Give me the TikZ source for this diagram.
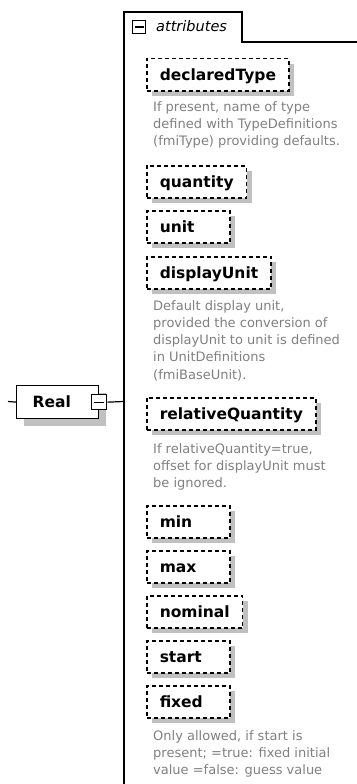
\documentclass[tikz,border=0pt]{standalone}
\usepackage{fontspec}
\setmainfont{DejaVu Sans}
\usetikzlibrary{shadows}
\definecolor{shadowgray}{HTML}{C0C0C0}
\definecolor{descgray}{HTML}{808080}
\begin{document}
\begin{tikzpicture}[x=1pt,y=-1pt,
  attrbox/.style={draw, dash pattern=on 4pt off 3pt, line width=1.5pt, fill=white,
    anchor=north west, minimum height=32pt, inner xsep=13pt,
    text height=11pt, text depth=0pt,
    font=\bfseries\fontsize{15.5}{18}\selectfont,
    drop shadow={shadow xshift=5pt, shadow yshift=-5pt, fill=shadowgray, opacity=1}},
  shortbox/.style={text width=57pt, align=left},
  desc/.style={anchor=base west, align=left, inner sep=0pt, text=descgray,
    font=\fontsize{13}{17.3}\selectfont},
  realbox/.style={draw, line width=1.2pt, fill=white, anchor=north west,
    minimum height=33pt, inner xsep=16pt, text width=50pt, align=left,
    text height=10pt, text depth=0pt,
    font=\bfseries\fontsize{15.5}{18}\selectfont,
    drop shadow={shadow xshift=7pt, shadow yshift=-7pt, fill=shadowgray, opacity=1}},
  expbox/.style={draw, line width=1.3pt, fill=white, inner sep=0pt, anchor=north west},
  conn/.style={line width=1.2pt}
]
\useasboundingbox (0,0) rectangle (356,784);

% group outline
\draw[line width=1.4pt] (124,790) -- (124,12) -- (242,12) -- (242,42) -- (360,42);
\node[expbox, minimum size=13pt] (gexp) at (132,20) {};
\draw[line width=1.3pt] ([xshift=2.5pt]gexp.west) -- ([xshift=-2.5pt]gexp.east);
\node[anchor=base west, inner sep=0pt, font=\itshape\fontsize{14.5}{16}\selectfont] (gtitle) at (156,32) {attributes};

% Real element
\node[realbox] (real) at (16,385) {Real};
\node[expbox, minimum size=15pt] (rexp) at (91,394) {};
\draw[line width=1.3pt] ([xshift=3pt]rexp.west) -- ([xshift=-3pt]rexp.east);
\coordinate (lstub) at (8,401.5);
\coordinate (gin) at (124,401.5);
\draw[conn] (lstub) -- (real.west);
\draw[conn] (rexp.east) -- (gin);

% attributes
\node[attrbox] (declaredType) at (146,58) {declaredType};
\node[desc] (d1) at (153,145.6) {If present, name of type\\defined with TypeDefinitions\\(fmiType) providing defaults.};
\node[attrbox] (quantity) at (146,165) {quantity};
\node[attrbox, shortbox] (unit) at (146,210) {unit};
\node[attrbox] (displayUnit) at (146,256) {displayUnit};
\node[desc] (d2) at (153,379.2) {Default display unit,\\provided the conversion of\\displayUnit to unit is defined\\in UnitDefinitions\\(fmiBaseUnit).};
\node[attrbox] (relativeQuantity) at (146,397) {relativeQuantity};
\node[desc] (d3) at (153,487.6) {If relativeQuantity=true,\\offset for displayUnit must\\be ignored.};
\node[attrbox, shortbox] (min) at (146,505) {min};
\node[attrbox, shortbox] (max) at (146,550) {max};
\node[attrbox] (nominal) at (146,595) {nominal};
\node[attrbox, shortbox] (start) at (146,640) {start};
\node[attrbox, shortbox] (fixed) at (146,685) {fixed};
\node[desc] (d4) at (153,774.6) {Only allowed, if start is\\present; =true: fixed initial\\value =false: guess value};
\end{tikzpicture}
\end{document}
